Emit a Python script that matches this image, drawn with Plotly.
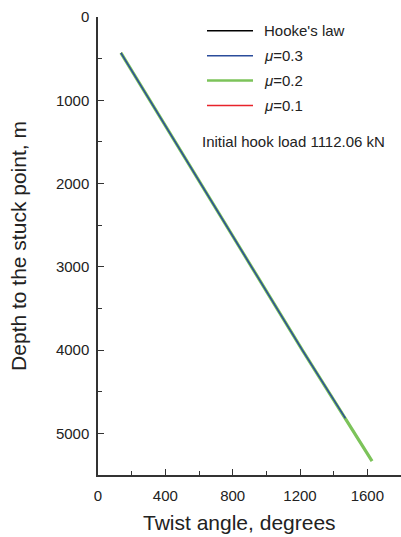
import plotly.graph_objects as go

# ---- data ----
series_names = ["Hooke's law", "<i>μ</i>=0.3", "<i>μ</i>=0.2", "<i>μ</i>=0.1"]
series_colors = ["#000000", "#2b4c9b", "#7cc35a", "#e8232b"]
series_widths = [1.5, 1.5, 3.2, 1.5]

hooke_angle = [136, 307, 610, 912, 1214, 1470]
hooke_depth = [430, 1000, 2000, 3000, 4000, 4820]

mu03_angle = [136, 307, 610, 912, 1214, 1470]
mu03_depth = [430, 1000, 2000, 3000, 4000, 4820]

mu02_angle = [136, 307, 610, 912, 1214, 1470, 1628]
mu02_depth = [430, 1000, 2000, 3000, 4000, 4820, 5333]

mu01_angle = [136, 307, 610, 912, 1214, 1470]
mu01_depth = [430, 1000, 2000, 3000, 4000, 4820]

x_ticks = [0, 400, 800, 1200, 1600]
y_ticks = [0, 1000, 2000, 3000, 4000, 5000]
note_text = "Initial hook load 1112.06 kN"
x_title = "Twist angle, degrees"
y_title = "Depth to the stuck point, m"

W, H = 401, 537
L, R, T, B = 98, 0, 17, 62
PW, PH = W - L - R, H - T - B


def px(x):
    return (x - L) / PW


def py(y):
    return (H - B - y) / PH


FONT = "Liberation Sans, Arial, Helvetica, sans-serif"
AX = "#333333"
TXT = "#222222"

fig = go.Figure()
# drawing order: black, red, green, blue on top
order = [0, 3, 2, 1]
data = [(hooke_angle, hooke_depth), (mu03_angle, mu03_depth),
        (mu02_angle, mu02_depth), (mu01_angle, mu01_depth)]
for i in order:
    xs, ys = data[i]
    fig.add_trace(go.Scatter(x=xs, y=ys, mode="lines", name=series_names[i],
                             line=dict(color=series_colors[i], width=series_widths[i]),
                             showlegend=False))

# custom legend
rows = [30.7, 55.7, 80.5, 105.5]
shapes = []
annotations = []
for i, yy in enumerate(rows):
    shapes.append(dict(type="line", xref="paper", yref="paper",
                       x0=px(207), x1=px(253), y0=py(yy), y1=py(yy),
                       line=dict(color=series_colors[i], width=series_widths[i] if i != 2 else 2.5)))
    annotations.append(dict(xref="paper", yref="paper", x=px(262), y=py(yy),
                            xanchor="left", yanchor="middle", showarrow=False,
                            text=series_names[i], font=dict(size=15, color=TXT, family=FONT)))
annotations.append(dict(xref="paper", yref="paper", x=px(200), y=py(141),
                        xanchor="left", yanchor="middle", showarrow=False,
                        text=note_text, font=dict(size=15, color=TXT, family=FONT)))
# x-axis title (slightly left of centre as in the reference)
annotations.append(dict(xref="paper", yref="paper", x=px(239), y=py(522),
                        xanchor="center", yanchor="middle", showarrow=False,
                        text=x_title, font=dict(size=21, color=TXT, family=FONT)))

fig.update_layout(
    width=W, height=H,
    margin=dict(l=L, r=R, t=T, b=B, pad=0),
    paper_bgcolor="white", plot_bgcolor="white",
    font=dict(family=FONT, color=TXT),
    shapes=shapes, annotations=annotations,
    showlegend=False,
)
fig.update_xaxes(
    range=[0, 1800], tickvals=x_ticks, ticks="inside", ticklen=6, tickwidth=1.2,
    tickcolor=AX, showline=True, linecolor=AX, linewidth=1.5, showgrid=False,
    zeroline=False, tickfont=dict(size=15, color=TXT), ticklabelstandoff=6,
    minor=dict(ticks="inside", dtick=200, ticklen=4, tickwidth=1.2, tickcolor=AX, showgrid=False),
)
fig.update_yaxes(
    range=[5500, 0], tickvals=y_ticks, ticks="inside", ticklen=6, tickwidth=1.2,
    tickcolor=AX, showline=True, linecolor=AX, linewidth=1.5, showgrid=False,
    zeroline=False, tickfont=dict(size=15, color=TXT), ticklabelstandoff=4,
    minor=dict(ticks="inside", dtick=500, ticklen=4, tickwidth=1.2, tickcolor=AX, showgrid=False),
    title=dict(text=y_title, font=dict(size=21, color=TXT), standoff=24),
)

fig.write_html("out.html")
